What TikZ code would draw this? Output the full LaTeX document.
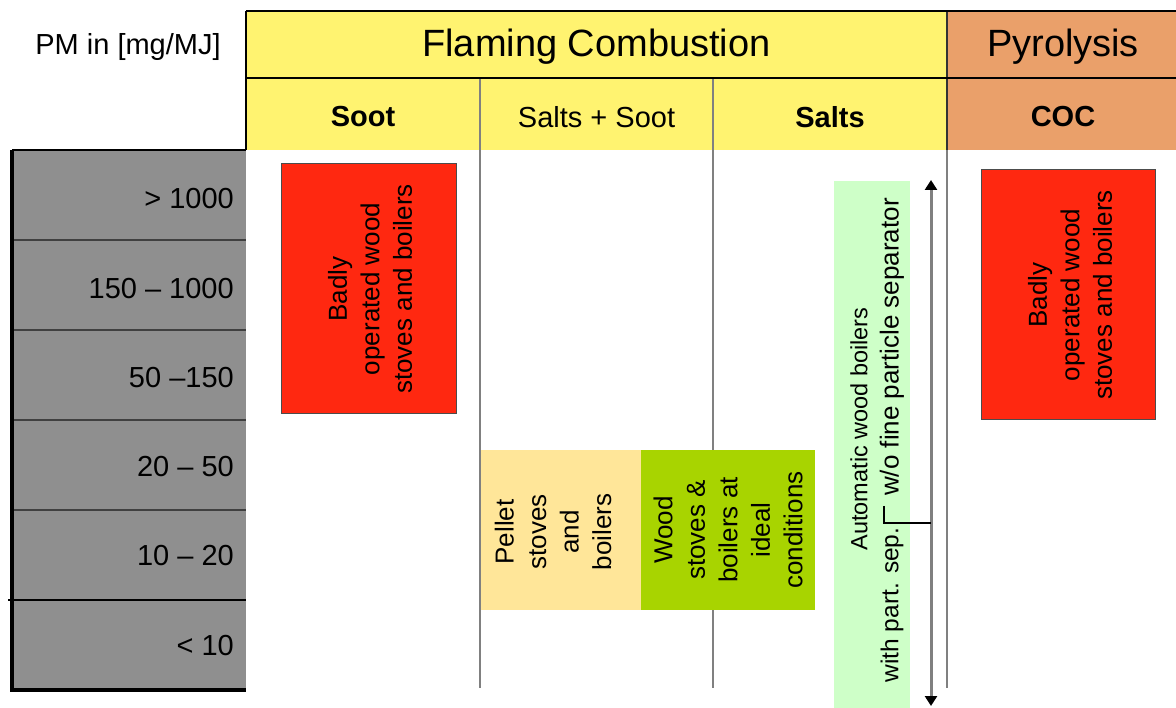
\documentclass[tikz,border=0pt]{standalone}
\usepackage{fontspec}
\setmainfont{Liberation Sans}
\usetikzlibrary{arrows.meta}
\definecolor{hdryel}{RGB}{255,243,112}
\definecolor{pyro}{RGB}{234,160,106}
\definecolor{colgray}{RGB}{143,143,143}
\definecolor{badred}{RGB}{255,40,16}
\definecolor{pelletcol}{RGB}{255,230,153}
\definecolor{woodgreen}{RGB}{168,212,0}
\definecolor{autogreen}{RGB}{206,255,200}
\definecolor{gridgray}{RGB}{128,128,128}
\begin{document}
\begin{tikzpicture}[x=1pt,y=-1pt,
  cell/.style={inner sep=0pt,outer sep=0pt,draw=none},
  lbl/.style={inner sep=0pt,font=\fontsize{29}{34}\selectfont},
  lblb/.style={inner sep=0pt,font=\fontsize{29}{34}\selectfont\bfseries},
  ttl/.style={inner sep=0pt,font=\fontsize{38}{44}\selectfont},
  vtext/.style={rotate=90,align=center,inner sep=0pt,font=\fontsize{26}{32.5}\selectfont},
  gridline/.style={draw=gridgray,line width=1.6pt},
  blackline/.style={draw=black,line width=1.6pt},
  redbox/.style={cell,fill=badred,draw=black!70,line width=1pt},
  arrowline/.style={draw=gridgray,line width=3pt,{Triangle[length=10pt,width=12pt,color=black]}-{Triangle[length=10pt,width=12pt,color=black]}}
]
\useasboundingbox (0,0) rectangle (1176,708);
% header backgrounds
\node[cell,fill=hdryel,minimum width=701pt,minimum height=139pt] (fcbg) at (596.5,80.5) {};
\node[cell,fill=pyro,minimum width=229pt,minimum height=139pt] (pybg) at (1061.5,80.5) {};
% left gray column
\node[cell,fill=colgray,minimum width=234pt,minimum height=540pt] (colbg) at (129,420) {};
% grid lines
\coordinate (v1t) at (480,78); \coordinate (v1b) at (480,688);
\coordinate (v2t) at (713,78); \coordinate (v2b) at (713,688);
\coordinate (v3t) at (947,11); \coordinate (v3m) at (947,150); \coordinate (v3b) at (947,688);
\draw[gridline] (v1t) -- (v1b);
\draw[gridline] (v2t) -- (v2b);
\draw[gridline] (v3m) -- (v3b);
\draw[draw=black!80,line width=1.6pt] (v3t) -- (v3m);
\coordinate (h0l) at (246,11); \coordinate (h0r) at (1176,11);
\coordinate (h1l) at (246,78); \coordinate (h1r) at (1176,78);
\coordinate (h2l) at (246,150);
\draw[line width=2.5pt] (h0l) -- (h0r);
\draw[blackline] (h1l) -- (h1r);
\draw[blackline] (h0l) -- (h2l);
% gray column lines
\coordinate (c0) at (12,150); \coordinate (c0r) at (246,150);
\coordinate (cb) at (12,690); \coordinate (cbr) at (246,690);
\draw[line width=2pt] (c0) -- (c0r);
\foreach \yy in {240,330,420,510} {
  \draw[draw=black!75,line width=1.4pt] (12,\yy) -- (246,\yy);
}
\draw[line width=1.4pt] (8,600) -- (246,600);
\draw[line width=3.5pt] (c0) -- (cb) -- (cbr);
% header texts
\node[lbl] (pm) at (128,47) {PM in [mg/MJ]};
\node[ttl] (fc) at (596.5,47) {Flaming Combustion};
\node[ttl] (py) at (1063,47) {Pyrolysis};
\node[lblb] (soot) at (363,117) {Soot};
\node[lbl] (ss) at (596.5,117) {Salts + Soot};
\node[lblb] (salts) at (830,117) {Salts};
\node[lblb] (coc) at (1063,117) {COC};
% row labels
\node[lbl,anchor=east] (r1) at (234,199) {> 1000};
\node[lbl,anchor=east] (r2) at (234,289) {150 – 1000};
\node[lbl,anchor=east] (r3) at (234,378) {50 –150};
\node[lbl,anchor=east] (r4) at (234,467) {20 – 50};
\node[lbl,anchor=east] (r5) at (234,556) {10 – 20};
\node[lbl,anchor=east] (r6) at (234,646) {< 10};
% boxes
\node[redbox,minimum width=175pt,minimum height=250pt] (red1) at (368.5,289) {};
\node[vtext] (red1t) at (370,289) {Badly\\operated wood\\stoves and boilers};
\node[redbox,minimum width=174pt,minimum height=250pt] (red2) at (1068,295) {};
\node[vtext] (red2t) at (1070,295) {Badly\\operated wood\\stoves and boilers};
\node[cell,fill=pelletcol,minimum width=160pt,minimum height=160pt] (pel) at (561,530) {};
\node[vtext] (pelt) at (553,532) {Pellet\\stoves\\and\\boilers};
\node[cell,fill=woodgreen,minimum width=174pt,minimum height=160pt] (wood) at (728,530) {};
\node[vtext] (woodt) at (728,530) {Wood\\stoves \&\\boilers at\\ideal\\conditions};
\node[cell,fill=autogreen,minimum width=76pt,minimum height=527pt] (auto) at (871.5,444.5) {};
\node[vtext,font=\fontsize{23.5}{28}\selectfont] (autot) at (859,429) {Automatic wood boilers};
\node[vtext,font=\fontsize{24.5}{28}\selectfont] (autow) at (892,605) {with part. sep.};
\node[vtext] (autoo) at (892,347) {w/o fine particle separator};
% arrow and tick
\coordinate (atop) at (931,180); \coordinate (abot) at (931,706);
\draw[arrowline] (atop) -- (abot);
\coordinate (tickT) at (884,506); \coordinate (tickL) at (884,523); \coordinate (tickR) at (931,523);
\draw[line width=2pt] (tickT) -- (tickL) -- (tickR);
\end{tikzpicture}
\end{document}
